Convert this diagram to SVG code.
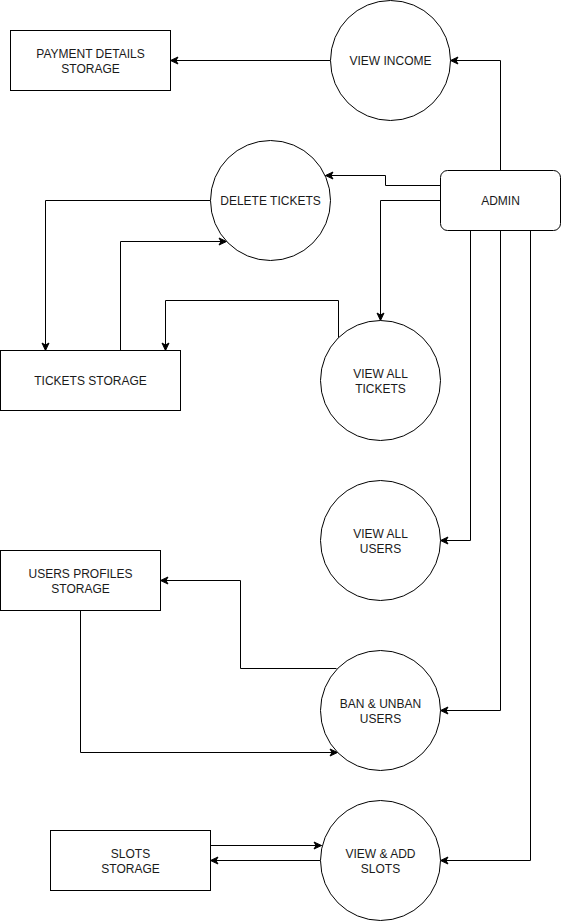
<svg xmlns="http://www.w3.org/2000/svg" width="561" height="921" viewBox="0 0 561 921">
<defs>
<marker id="arr" markerUnits="userSpaceOnUse" markerWidth="10" markerHeight="10" viewBox="0 0 10 10" refX="9" refY="5" orient="auto">
<path d="M1.5,1.5 L9,5 L1.5,8.5 L3.5,5 Z" fill="#000" stroke="#000" stroke-width="1"/>
</marker>
<style>
.n{fill:#fff;stroke:#000;stroke-width:1}
.e{fill:none;stroke:#000;stroke-width:1;marker-end:url(#arr)}
text{font-family:"Liberation Sans",Arial,Helvetica,sans-serif;font-size:12px;fill:#1a1a1a;text-anchor:middle;dominant-baseline:central}
</style>
</defs>
<rect width="561" height="921" fill="#fff"/>
<g transform="translate(0.5,0.5)">
<g id="connectors">
<path class="e" d="M330,60 L170,60"/>
<path class="e" d="M500,170 L500,60 L450,60"/>
<path class="e" d="M440,185 L385,185 L385,175 L325,175"/>
<path class="e" d="M440,200 L380,200 L380,320"/>
<path class="e" d="M210,200 L45,200 L45,350"/>
<path class="e" d="M120,350 L120,241 L226,241"/>
<path class="e" d="M338,337 L338,300 L165,300 L165,350"/>
<path class="e" d="M470,230 L470,540 L440,540"/>
<path class="e" d="M500,230 L500,710 L440,710"/>
<path class="e" d="M530,230 L530,860 L440,860"/>
<path class="e" d="M336,668 L240,668 L240,580 L160,580"/>
<path class="e" d="M80,610 L80,752 L337,752"/>
<path class="e" d="M210,845 L321,845"/>
<path class="e" d="M320,860 L210,860"/>
</g>
<g id="payment-storage"><rect class="n" x="10" y="30" width="160" height="60"/><text x="90" y="53">PAYMENT DETAILS</text><text x="90" y="68">STORAGE</text></g>
<g id="view-income"><circle class="n" cx="390" cy="60" r="60"/><text x="390" y="60">VIEW INCOME</text></g>
<g id="admin"><rect class="n" x="440" y="170" width="120" height="60" rx="7"/><text x="500" y="200">ADMIN</text></g>
<g id="delete-tickets"><circle class="n" cx="270" cy="200" r="60"/><text x="270" y="200">DELETE TICKETS</text></g>
<g id="tickets-storage"><rect class="n" x="0" y="350" width="180" height="60"/><text x="90" y="380">TICKETS STORAGE</text></g>
<g id="view-all-tickets"><circle class="n" cx="380" cy="380" r="60"/><text x="380" y="373">VIEW ALL</text><text x="380" y="388">TICKETS</text></g>
<g id="view-all-users"><circle class="n" cx="380" cy="540" r="60"/><text x="380" y="533">VIEW ALL</text><text x="380" y="548">USERS</text></g>
<g id="users-storage"><rect class="n" x="0" y="550" width="160" height="60"/><text x="80" y="573">USERS PROFILES</text><text x="80" y="588">STORAGE</text></g>
<g id="ban-users"><circle class="n" cx="380" cy="710" r="60"/><text x="380" y="703">BAN &amp; UNBAN</text><text x="380" y="718">USERS</text></g>
<g id="slots-storage"><rect class="n" x="50" y="830" width="160" height="60"/><text x="130" y="853">SLOTS</text><text x="130" y="868">STORAGE</text></g>
<g id="view-add-slots"><circle class="n" cx="380" cy="860" r="60"/><text x="380" y="853">VIEW &amp; ADD</text><text x="380" y="868">SLOTS</text></g>
</g>
</svg>
